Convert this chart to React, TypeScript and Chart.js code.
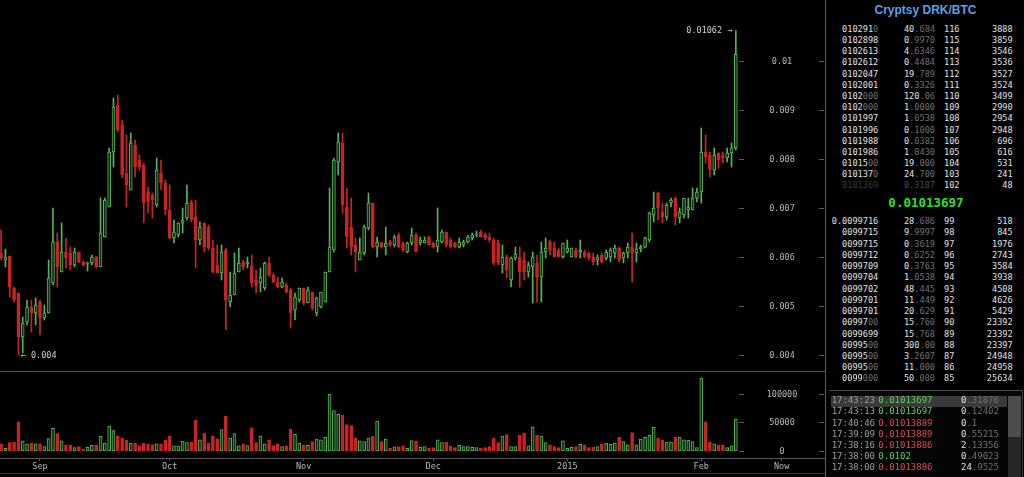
import React, { useEffect, useRef } from "react";
import { Chart, registerables } from "chart.js";

Chart.register(...registerables);

// ---------------- data ----------------
// daily candles, first one on 2014-08-23 (day -9 relative to 2014-09-01)
const FIRST_DAY = -9;

const opens = [
  0.006082, 0.005939, 0.00602, 0.005367, 0.005265, 0.004367, 0.004673, 0.00498, 0.004857, 0.005082,
  0.004755, 0.004857, 0.005469, 0.006306, 0.005694, 0.006102, 0.006082, 0.005837, 0.006102, 0.005898,
  0.005857, 0.005878, 0.006, 0.005796, 0.006408, 0.00702, 0.008143, 0.009102, 0.008694, 0.007714,
  0.007367, 0.008286, 0.00798, 0.007878, 0.007327, 0.007265, 0.007061, 0.007714, 0.00751, 0.006959,
  0.006388, 0.006449, 0.006694, 0.006796, 0.007122, 0.006816, 0.006347, 0.006694, 0.006612, 0.006184,
  0.005837, 0.005673, 0.006143, 0.005082, 0.005225, 0.005694, 0.005898, 0.005857, 0.005816, 0.005531,
  0.005469, 0.005367, 0.005878, 0.005633, 0.00549, 0.005388, 0.005429, 0.005327, 0.004918, 0.005122,
  0.005367, 0.005061, 0.005286, 0.004857, 0.00498, 0.005082, 0.005694, 0.006143, 0.007939, 0.008327,
  0.00702, 0.006612, 0.006245, 0.005939, 0.006082, 0.006592, 0.007102, 0.006204, 0.006286, 0.006204,
  0.006306, 0.006245, 0.006449, 0.006286, 0.006102, 0.006286, 0.006449, 0.006286, 0.006286, 0.006408,
  0.006286, 0.006204, 0.006306, 0.00651, 0.006347, 0.006286, 0.006204, 0.006245, 0.006306, 0.006388,
  0.006449, 0.00651, 0.006449, 0.006408, 0.006347, 0.006286, 0.005837, 0.006, 0.005531, 0.00598,
  0.006, 0.005939, 0.005694, 0.005796, 0.005878, 0.005592, 0.006102, 0.006306, 0.006184, 0.006143,
  0.006, 0.006102, 0.006, 0.006143, 0.006102, 0.006102, 0.006082, 0.006, 0.005939, 0.006041,
  0.00598, 0.006, 0.006082, 0.006184, 0.00598, 0.006082, 0.006204, 0.006082, 0.006163, 0.006204,
  0.006347, 0.006857, 0.007306, 0.006918, 0.006816, 0.007102, 0.007204, 0.006796, 0.006857, 0.006959,
  0.006959, 0.007204, 0.007327, 0.008143, 0.008082, 0.007776, 0.008123, 0.008082, 0.00802, 0.008123,
  0.008225,
];

const highs = [
  0.006551, 0.006163, 0.00602, 0.005388, 0.005265, 0.004776, 0.005122, 0.005122, 0.005163, 0.005122,
  0.00502, 0.005939, 0.007, 0.00649, 0.006694, 0.006388, 0.006204, 0.006184, 0.006102, 0.005918,
  0.005898, 0.006041, 0.00602, 0.007204, 0.007204, 0.008225, 0.009245, 0.009306, 0.008796, 0.00849,
  0.008531, 0.008388, 0.008082, 0.007918, 0.007429, 0.007306, 0.00802, 0.00798, 0.007571, 0.007469,
  0.006755, 0.006694, 0.007, 0.007469, 0.007163, 0.007163, 0.006714, 0.006694, 0.006653, 0.006347,
  0.006245, 0.006245, 0.006184, 0.005694, 0.006082, 0.006184, 0.005939, 0.006, 0.006041, 0.005735,
  0.005776, 0.005898, 0.006, 0.005673, 0.005592, 0.005571, 0.005469, 0.005367, 0.005265, 0.005367,
  0.005367, 0.005388, 0.005286, 0.005184, 0.005286, 0.005694, 0.007408, 0.00802, 0.008531, 0.008531,
  0.007408, 0.007204, 0.006388, 0.006388, 0.006653, 0.007306, 0.007102, 0.006408, 0.006306, 0.006612,
  0.006347, 0.006449, 0.00649, 0.006306, 0.006306, 0.006592, 0.00649, 0.006408, 0.006408, 0.006429,
  0.006306, 0.007, 0.006551, 0.00651, 0.006388, 0.006306, 0.006388, 0.006347, 0.006449, 0.00649,
  0.006531, 0.006551, 0.00649, 0.00649, 0.006388, 0.006347, 0.006245, 0.006041, 0.006, 0.006204,
  0.006204, 0.006102, 0.005898, 0.006102, 0.006041, 0.006306, 0.006388, 0.006347, 0.006306, 0.006184,
  0.006286, 0.006347, 0.006184, 0.006184, 0.006347, 0.006143, 0.006102, 0.006082, 0.006041, 0.006082,
  0.006143, 0.006184, 0.006245, 0.006204, 0.006102, 0.006286, 0.00649, 0.006286, 0.006245, 0.006408,
  0.006918, 0.007327, 0.007327, 0.007102, 0.007102, 0.007204, 0.007224, 0.007, 0.007204, 0.007204,
  0.007408, 0.007408, 0.008633, 0.00849, 0.008143, 0.008225, 0.008123, 0.008143, 0.008225, 0.008327,
  0.01062,
];

const lows = [
  0.005939, 0.005796, 0.005184, 0.005082, 0.004, 0.004041, 0.004612, 0.004469, 0.004612, 0.004408,
  0.004714, 0.004857, 0.005429, 0.005388, 0.005694, 0.005776, 0.005735, 0.005796, 0.005878, 0.005816,
  0.005714, 0.005837, 0.005776, 0.005796, 0.006408, 0.00702, 0.007837, 0.008551, 0.007612, 0.00702,
  0.007367, 0.007633, 0.007776, 0.006694, 0.006898, 0.006796, 0.00702, 0.007367, 0.006857, 0.006367,
  0.006286, 0.006408, 0.00649, 0.006755, 0.006714, 0.005776, 0.006245, 0.006102, 0.006143, 0.005673,
  0.005673, 0.005531, 0.00451, 0.00498, 0.005225, 0.005694, 0.005735, 0.005776, 0.005388, 0.005265,
  0.005286, 0.005327, 0.005592, 0.005469, 0.005367, 0.005367, 0.005265, 0.004551, 0.004714, 0.005082,
  0.00502, 0.005061, 0.004918, 0.004796, 0.004959, 0.005082, 0.005694, 0.006102, 0.007673, 0.006898,
  0.006184, 0.006041, 0.005694, 0.005939, 0.006041, 0.006551, 0.006184, 0.006, 0.006184, 0.006041,
  0.006204, 0.006204, 0.006184, 0.006102, 0.006082, 0.006245, 0.006102, 0.006245, 0.006286, 0.006245,
  0.006184, 0.006102, 0.006286, 0.006204, 0.006184, 0.006184, 0.006184, 0.006204, 0.006286, 0.006347,
  0.006408, 0.006408, 0.006347, 0.006306, 0.005837, 0.005837, 0.005673, 0.005571, 0.005388, 0.005939,
  0.005388, 0.005531, 0.005592, 0.005061, 0.005082, 0.005082, 0.00598, 0.006041, 0.006, 0.006,
  0.00598, 0.006082, 0.006, 0.00598, 0.00598, 0.00598, 0.005939, 0.005837, 0.005837, 0.005878,
  0.005939, 0.005898, 0.00598, 0.005898, 0.005878, 0.00598, 0.00549, 0.005898, 0.006102, 0.006184,
  0.006306, 0.006714, 0.006755, 0.006694, 0.006755, 0.00702, 0.006653, 0.006694, 0.006796, 0.006796,
  0.006959, 0.007122, 0.007102, 0.007918, 0.007633, 0.007673, 0.007816, 0.007918, 0.007939, 0.007837,
  0.008184,
];

const closes = [
  0.00598, 0.006, 0.005388, 0.005122, 0.004367, 0.004653, 0.00498, 0.004857, 0.00502, 0.004755,
  0.004857, 0.005571, 0.006306, 0.005796, 0.006102, 0.00598, 0.005837, 0.006102, 0.005898, 0.005837,
  0.005878, 0.006, 0.005796, 0.00649, 0.007163, 0.008143, 0.009061, 0.008592, 0.007673, 0.007469,
  0.008327, 0.007837, 0.007837, 0.007102, 0.007122, 0.007163, 0.007776, 0.00751, 0.006959, 0.006388,
  0.00651, 0.006694, 0.006755, 0.007102, 0.006755, 0.006347, 0.006612, 0.006204, 0.006184, 0.005694,
  0.005673, 0.006102, 0.005122, 0.005225, 0.005673, 0.005878, 0.005796, 0.005898, 0.005469, 0.005408,
  0.005592, 0.005878, 0.005633, 0.00549, 0.005388, 0.00549, 0.005286, 0.004857, 0.005184, 0.005367,
  0.005061, 0.005327, 0.004959, 0.005163, 0.005286, 0.005694, 0.006204, 0.00798, 0.008347, 0.007061,
  0.006408, 0.006204, 0.006102, 0.006102, 0.006612, 0.007102, 0.006204, 0.006306, 0.006204, 0.006286,
  0.006245, 0.006408, 0.006204, 0.006143, 0.006286, 0.006449, 0.006102, 0.006347, 0.006347, 0.006245,
  0.006204, 0.006347, 0.00651, 0.006245, 0.006204, 0.006204, 0.006306, 0.006306, 0.006408, 0.006449,
  0.006469, 0.006408, 0.006388, 0.006347, 0.005878, 0.005878, 0.006, 0.005735, 0.00598, 0.006061,
  0.005694, 0.005694, 0.005837, 0.006, 0.005592, 0.006102, 0.006184, 0.006143, 0.006, 0.006,
  0.006286, 0.006184, 0.006184, 0.006, 0.006143, 0.006, 0.00598, 0.005898, 0.006, 0.005898,
  0.006102, 0.006143, 0.006184, 0.005939, 0.006082, 0.006204, 0.006082, 0.006163, 0.006204, 0.006388,
  0.006898, 0.007, 0.007, 0.006816, 0.007061, 0.007163, 0.006816, 0.006918, 0.007204, 0.00702,
  0.007204, 0.007327, 0.008143, 0.008041, 0.007776, 0.008082, 0.00798, 0.00802, 0.008123, 0.008225,
  0.010137,
];

const volumes = [
  12500, 4800, 14900, 15500, 51200, 17900, 12000, 13700, 12500, 12500,
  7700, 22000, 39900, 30400, 17900, 10700, 10700, 5900, 7700, 3000,
  6500, 10100, 10700, 25600, 13700, 43500, 35700, 26800, 22600, 18500,
  13700, 13700, 8900, 13700, 12500, 11300, 12500, 12500, 18500, 26800,
  8900, 8900, 17300, 14900, 15500, 54200, 19600, 31000, 13700, 26800,
  21400, 37500, 61300, 22600, 30400, 8900, 12500, 9500, 40500, 14900,
  26800, 12500, 19600, 9500, 12500, 7700, 8900, 38700, 29200, 13700,
  10100, 10100, 16700, 20800, 19600, 23800, 100000, 70800, 64300, 62500,
  46400, 44600, 22600, 17900, 16700, 22600, 25600, 52400, 16700, 20800,
  4800, 7100, 7700, 8900, 4800, 18400, 17900, 6500, 7700, 4800,
  6000, 19600, 14900, 15500, 8900, 6000, 10100, 7700, 7700, 6500,
  6000, 4800, 6000, 7700, 22600, 14900, 26200, 28600, 7700, 7700,
  27400, 31500, 8900, 42300, 27400, 26200, 14900, 10700, 7700, 6000,
  17900, 4800, 6500, 7700, 11900, 10700, 6000, 6500, 7700, 12500,
  13700, 11900, 13700, 23800, 16700, 10700, 32100, 10700, 20800, 23800,
  27400, 41700, 22600, 19600, 15500, 15500, 24400, 24400, 19600, 18500,
  16700, 6000, 128000, 51200, 15500, 12500, 10700, 10700, 6000, 8900,
  56500,
];

// axis ticks (x in days from 2014-09-01)
const xTickDays = [0, 30, 61, 91, 122, 153, 171.6];
const xTickLabels = ["Sep", "Oct", "Nov", "Dec", "2015", "Feb", "Now"];
const priceTicks = [0.01, 0.009, 0.008, 0.007, 0.006, 0.005, 0.004];
const priceTickLabels = ["0.01", "0.009", "0.008", "0.007", "0.006", "0.005", "0.004"];
const volumeTicks = [100000, 50000, 0];
const volumeTickLabels = ["100000", "50000", "0"];

// order book
const askPrices = ["0102910", "0102898", "0102613", "0102612", "0102047", "0102001", "0102000", "0102000", "0101997", "0101996", "0101988", "0101986", "0101500", "0101370", "0101369"];
const askAmounts = ["40.684", "0.9970", "4.6346", "0.4484", "19.789", "0.3326", "120.06", "1.0000", "1.0538", "0.1000", "0.0382", "1.8430", "19.000", "24.700", "0.3187"];
const askCounts = [116, 115, 114, 113, 112, 111, 110, 109, 108, 107, 106, 105, 104, 103, 102];
const askTotals = [3888, 3859, 3546, 3536, 3527, 3524, 3499, 2990, 2954, 2948, 696, 616, 531, 241, 48];

const lastPrice = "0.01013697";

const bidPrices = ["0.0099716", "0099715", "0099715", "0099712", "0099709", "0099704", "0099702", "0099701", "0099701", "0099700", "0099699", "0099500", "0099500", "0099500", "0099000"];
const bidAmounts = ["28.686", "9.9997", "0.3619", "0.6252", "0.3763", "1.0538", "48.445", "11.449", "20.629", "15.760", "15.768", "300.00", "3.2607", "11.000", "50.000"];
const bidCounts = [99, 98, 97, 96, 95, 94, 93, 92, 91, 90, 89, 88, 87, 86, 85];
const bidTotals = [518, 845, 1976, 2743, 3584, 3938, 4508, 4626, 5429, 23392, 23392, 23397, 24948, 24958, 25634];

const tradeTimes = ["17:43:23", "17:43:13", "17:40:46", "17:39:09", "17:38:16", "17:38:00", "17:38:00"];
const tradePrices = ["0.01013697", "0.01013697", "0.01013889", "0.01013889", "0.01013886", "0.0102", "0.01013886"];
const tradeIsBuy = [true, true, false, false, false, true, false];
const tradeAmounts = ["0.31876", "0.12402", "0.1", "0.55215", "2.13356", "0.49023", "24.9525"];

// ---------------- style ----------------
const MONO = '"DejaVu Sans Mono", monospace';
const RED = "#c92424";
const GREEN = "#56b556";
const GREEN_FILL = "#0f2c0f";
const LABEL = "#b8b8b8";
const TICK = "#5a5a5a";
const AXIS = "#555555";
const BRIGHT = "#e2e2e2";
const DIM = "#707070";

const X_MIN = -9.255;
const X_MAX = 181.63;
const P_MIN = 0.0036531;
const P_MAX = 0.0112449;
const V_MIN = -12281;
const V_MAX = 138596;

const days = opens.map((_, i) => FIRST_DAY + i);
const up = opens.map((o, i) => closes[i] >= o);

const priceOverlay = {
  id: "priceOverlay",
  afterDraw(chart: any) {
    const { ctx } = chart;
    const x = chart.scales.x;
    const y = chart.scales.y;
    ctx.save();
    ctx.font = `8.5px ${MONO}`;
    ctx.textBaseline = "middle";
    priceTicks.forEach((v, i) => {
      const py = Math.round(y.getPixelForValue(v));
      ctx.fillStyle = TICK;
      ctx.fillRect(739, py, 5, 1);
      ctx.fillRect(819, py, 5, 1);
      ctx.fillStyle = LABEL;
      ctx.textAlign = "center";
      ctx.fillText(priceTickLabels[i], 782, py + 0.5);
    });
    let hi = 0;
    let lo = 0;
    highs.forEach((h, i) => { if (h > highs[hi]) hi = i; });
    lows.forEach((l, i) => { if (l < lows[lo]) lo = i; });
    ctx.fillStyle = "#cfcfcf";
    ctx.textAlign = "right";
    ctx.fillText(`${highs[hi]} \u2192`, x.getPixelForValue(days[hi]) - 3.5, y.getPixelForValue(highs[hi]));
    ctx.textAlign = "left";
    ctx.fillText(`\u2190 ${lows[lo]}`, x.getPixelForValue(days[lo]) + 2.3, y.getPixelForValue(lows[lo]) + 0.5);
    ctx.restore();
  },
};

const volumeOverlay = {
  id: "volumeOverlay",
  afterDraw(chart: any) {
    const { ctx } = chart;
    const y = chart.scales.y;
    ctx.save();
    ctx.font = `8.5px ${MONO}`;
    ctx.textBaseline = "middle";
    ctx.textAlign = "center";
    volumeTicks.forEach((v, i) => {
      const py = Math.round(y.getPixelForValue(v));
      ctx.fillStyle = TICK;
      ctx.fillRect(739, py, 5, 1);
      ctx.fillRect(819, py, 5, 1);
      ctx.fillStyle = LABEL;
      ctx.fillText(volumeTickLabels[i], 782, py + 0.5);
    });
    ctx.restore();
  },
};

function dimZeros(s: string) {
  const m = /^(.*?)(0*)$/.exec(s) as RegExpExecArray;
  return (
    <>
      {m[1]}
      <span style={{ color: DIM }}>{m[2]}</span>
    </>
  );
}

function dimFrac(s: string) {
  const k = s.indexOf(".");
  if (k < 0) return <>{s}</>;
  return (
    <>
      {s.slice(0, k)}
      <span style={{ color: DIM }}>{s.slice(k)}</span>
    </>
  );
}

const abs = (o: any) => ({ position: "absolute" as const, ...o });

function BookRow(props: { top: number; price: string; amount: string; count: number; total: number; faded?: boolean }) {
  const { top, price, amount, count, total, faded } = props;
  return (
    <div style={abs({ left: 0, top, width: 198, height: 11, lineHeight: "11px", font: `8.6px ${MONO}`, color: BRIGHT, whiteSpace: "pre" })}>
      <div style={abs({ left: 0, top: 0, width: 52.3, textAlign: "right", color: faded ? "#3a3a3a" : BRIGHT })}>
        {faded ? price : dimZeros(price)}
      </div>
      <div style={abs({ left: 0, top: 0, width: 109, textAlign: "right", color: faded ? "#4a4a4a" : BRIGHT })}>
        {faded ? amount : dimFrac(amount)}
      </div>
      <div style={abs({ left: 118, top: 0 })}>{count}</div>
      <div style={abs({ left: 0, top: 0, width: 186.7, textAlign: "right" })}>{total}</div>
    </div>
  );
}

function OrderBook() {
  return (
    <div style={abs({ left: 825, top: 0, width: 198, height: 477, borderLeft: "1px solid #5f5f5f", background: "#000" })}>
      <div style={abs({ left: 0, top: 3, width: 199, textAlign: "center", font: 'bold 12px "Liberation Sans", Arial, sans-serif', lineHeight: "14px", color: "#5d9fe6" })}>
        Cryptsy DRK/BTC
      </div>
      {askPrices.map((p, i) => (
        <BookRow key={"a" + i} top={29.3 + i * 11.19 - 5.5} price={p} amount={askAmounts[i]} count={askCounts[i]} total={askTotals[i]} faded={i === askPrices.length - 1} />
      ))}
      <div style={abs({ left: 0, top: 196.3, width: 200, textAlign: "center", font: `bold 12.5px ${MONO}`, lineHeight: "14px", color: "#2be02b" })}>
        {lastPrice}
      </div>
      {bidPrices.map((p, i) => (
        <BookRow key={"b" + i} top={221.7 + i * 11.23 - 5.5} price={p} amount={bidAmounts[i]} count={bidCounts[i]} total={bidTotals[i]} />
      ))}
      {/* trade history box */}
      <div style={abs({ left: 3, top: 390, width: 193, height: 87, borderTop: "1px solid #4d4d4d", borderRight: "1px solid #3c3c3c", background: "#050505" })} />
      <div style={abs({ left: 5, top: 396, width: 176, height: 10.5, background: "#3a3a3a" })} />
      <div style={abs({ left: 182, top: 396, width: 13, height: 81, background: "#262626" })} />
      <div style={abs({ left: 182, top: 396, width: 13, height: 41, background: "#4c4c4c" })} />
      {tradeTimes.map((t, i) => (
        <div key={"t" + i} style={abs({ left: 0, top: 400.7 + i * 11.17 - 5.5, width: 182, height: 11, lineHeight: "11px", font: `9px ${MONO}`, whiteSpace: "pre" })}>
          <div style={abs({ left: 5.7, top: 0, color: "#9c9c9c" })}>{t}</div>
          <div style={abs({ left: 52.3, top: 0, color: tradeIsBuy[i] ? "#5ccf5c" : "#e04a4a" })}>{tradePrices[i]}</div>
          <div style={abs({ left: 135, top: 0, color: BRIGHT })}>{dimFrac(tradeAmounts[i])}</div>
        </div>
      ))}
    </div>
  );
}

export default function App() {
  const priceRef = useRef<HTMLCanvasElement | null>(null);
  const volRef = useRef<HTMLCanvasElement | null>(null);

  useEffect(() => {
    document.body.style.margin = "0";
    document.body.style.background = "#000";
    const pc = priceRef.current as HTMLCanvasElement;
    const vc = volRef.current as HTMLCanvasElement;

    const priceChart = new Chart(pc, {
      type: "bar",
      data: {
        datasets: [
          {
            label: "body",
            data: days.map((d, i) => ({ x: d, y: [opens[i], closes[i]] })) as any,
            backgroundColor: up.map((u) => (u ? GREEN_FILL : RED)),
            borderColor: up.map((u) => (u ? GREEN : RED)),
            borderWidth: 1,
            borderSkipped: false,
            barThickness: 3,
            grouped: false,
            order: 0,
          } as any,
          {
            label: "wick",
            data: days.map((d, i) => ({ x: d, y: [lows[i], highs[i]] })) as any,
            backgroundColor: up.map((u) => (u ? GREEN : RED)),
            borderWidth: 0,
            barThickness: 1,
            grouped: false,
            order: 1,
          } as any,
        ],
      },
      options: {
        responsive: false,
        animation: false,
        layout: { padding: 0 },
        plugins: { legend: { display: false }, tooltip: { enabled: false } },
        scales: {
          x: { type: "linear", min: X_MIN, max: X_MAX, display: false, offset: false },
          y: { type: "linear", min: P_MIN, max: P_MAX, display: false },
        },
      } as any,
      plugins: [priceOverlay],
    });

    const volChart = new Chart(vc, {
      type: "bar",
      data: {
        datasets: [
          {
            label: "volume",
            data: days.map((d, i) => ({ x: d, y: volumes[i] })) as any,
            backgroundColor: up.map((u) => (u ? GREEN_FILL : RED)),
            borderColor: up.map((u) => (u ? GREEN : RED)),
            borderWidth: 1,
            borderSkipped: false,
            barThickness: 3,
          } as any,
        ],
      },
      options: {
        responsive: false,
        animation: false,
        layout: { padding: 0 },
        plugins: { legend: { display: false }, tooltip: { enabled: false } },
        scales: {
          x: {
            type: "linear",
            min: X_MIN,
            max: X_MAX,
            offset: false,
            afterBuildTicks: (s: any) => {
              s.ticks = xTickDays.map((v) => ({ value: v }));
            },
            afterFit: (s: any) => {
              s.height = 15;
            },
            ticks: {
              autoSkip: false,
              maxRotation: 0,
              padding: 1,
              color: LABEL,
              font: { family: MONO, size: 8.5 },
              callback: (_v: any, i: number) => xTickLabels[i],
            },
            grid: { drawOnChartArea: false, drawTicks: true, tickLength: 3, color: AXIS, offset: false },
            border: { display: true, color: AXIS },
          },
          y: { type: "linear", min: V_MIN, max: V_MAX, display: false },
        },
      } as any,
      plugins: [volumeOverlay],
    });

    return () => {
      priceChart.destroy();
      volChart.destroy();
    };
  }, []);

  return (
    <div style={{ position: "fixed", left: 0, top: 0, width: 1024, height: 477, background: "#000", overflow: "hidden" }}>
      <canvas ref={priceRef} width={825} height={372} style={{ position: "absolute", left: 0, top: 0 }} />
      <div style={{ position: "absolute", left: 0, top: 371, width: 825, height: 1, background: "#4f4f4f" }} />
      <canvas ref={volRef} width={825} height={101} style={{ position: "absolute", left: 0, top: 372 }} />
      <div style={{ position: "absolute", left: 0, top: 473, width: 825, height: 1, background: "#3f3f3f" }} />
      <OrderBook />
    </div>
  );
}
